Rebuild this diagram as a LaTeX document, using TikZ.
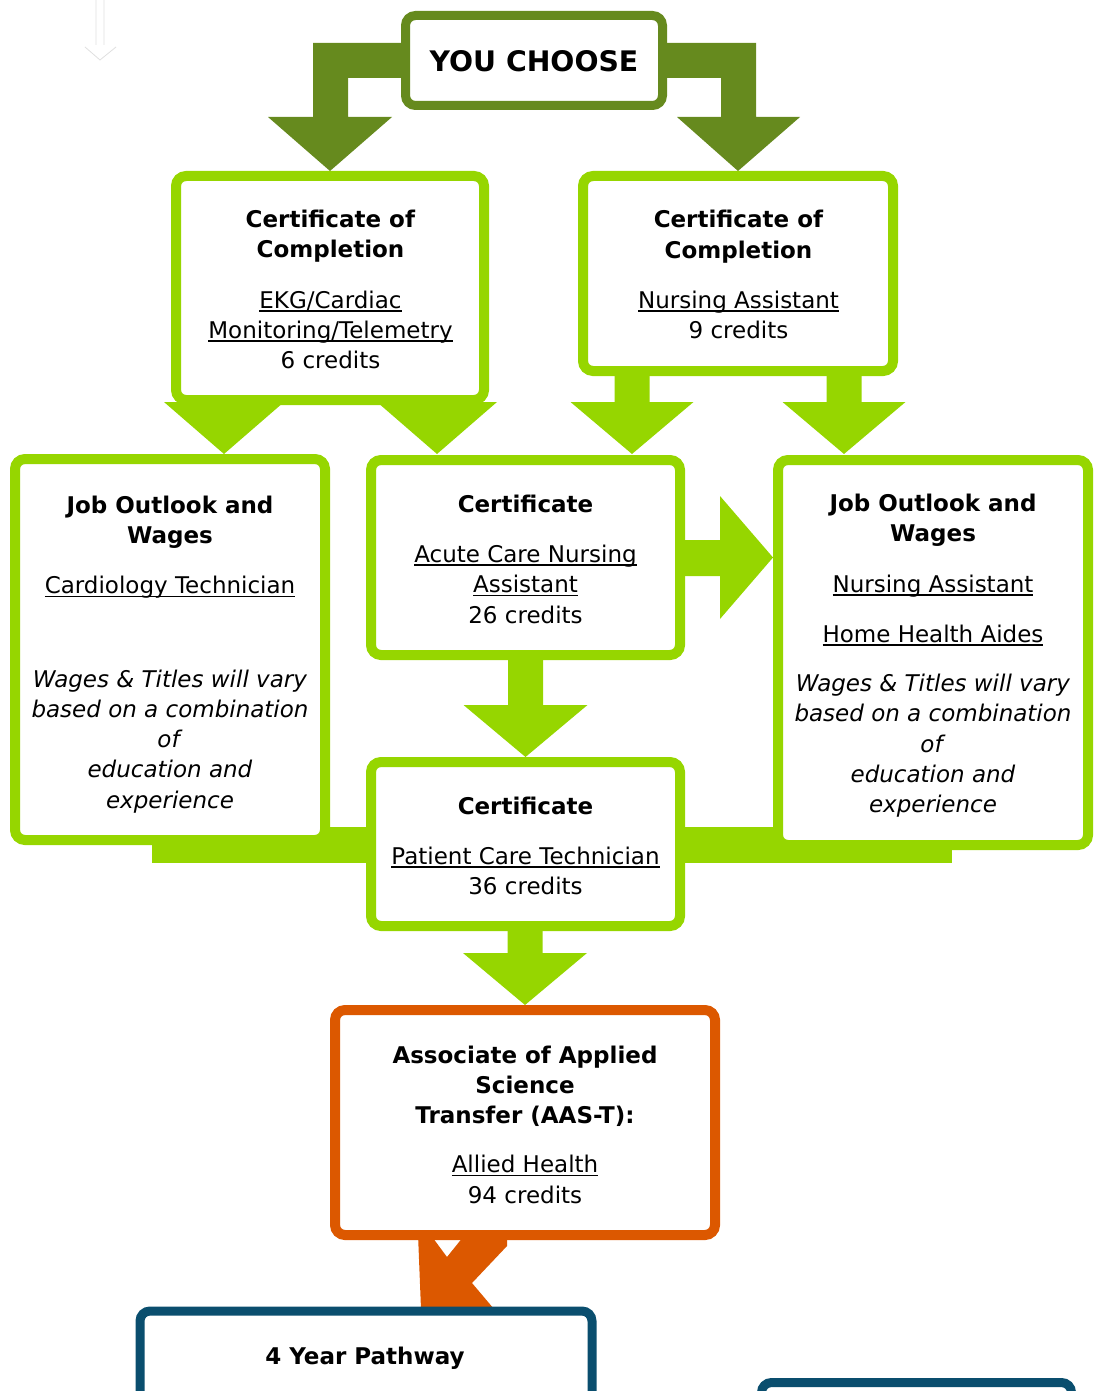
\documentclass[tikz,border=0pt]{standalone}
\usepackage{fontspec}
\setmainfont{DejaVu Sans}
\usetikzlibrary{calc}
\definecolor{lgreen}{RGB}{150,214,0}
\definecolor{dgreen}{RGB}{102,138,30}
\definecolor{borange}{RGB}{220,88,0}
\definecolor{bblue}{RGB}{10,78,110}
\newsavebox\ulbox
\newcommand\ulx[1]{\sbox\ulbox{#1}\rlap{\rule[-3.6pt]{\wd\ulbox}{1.8pt}}\usebox\ulbox}
\tikzset{
  gbox/.style={draw=lgreen, line width=10pt, fill=white, rounded corners=10pt, rectangle, inner sep=0pt},
  dbox/.style={draw=dgreen, line width=9pt, fill=white, rounded corners=10pt, rectangle, inner sep=0pt},
  obox/.style={draw=borange, line width=10pt, fill=white, rounded corners=10pt, rectangle, inner sep=0pt},
  bbox/.style={draw=bblue, line width=9pt, fill=white, rounded corners=10pt, rectangle, inner sep=0pt},
  txt/.style={anchor=base, align=center, inner sep=0pt, font=\fontsize{23}{30.25}\selectfont},
  garrow/.style={fill=lgreen},
  darrow/.style={fill=dgreen},
  oarrow/.style={fill=borange}
}
\newcommand\blockdown[3]{\fill[garrow] (#1) -- ++(-#2,-52) -- ++(#2-17.5,0) -- ++(0,-#3) -- ++(35,0) -- ++(0,#3) -- ++(#2-17.5,0) -- cycle;}
\begin{document}
\begin{tikzpicture}[x=1pt,y=-1pt]
\useasboundingbox (0,0) rectangle (1100,1391);
\clip (0,0) rectangle (1100,1391);
% faint arrow top-left
\draw[gray!25, line width=0.8pt] (96,0) -- (96,45) (104,0) -- (104,45) (85,47) -- (100,60) -- (116,47);
\path
  (534,60.5) coordinate (choosec)
  (330,288) coordinate (cert1c)
  (738,273.5) coordinate (cert2c);
% band behind bottom of job boxes
\fill[lgreen] (152,827) rectangle (952,863);
% dark green arrows (drawn before top box)
\coordinate (tipL) at (330,171);
\coordinate (tipR) at (738,171);
\fill[darrow] (tipL) -- ++(-62,-54) -- ++(45,0) -- ++(0,-74) -- ++(97,0) -- ++(0,35) -- ++(-62,0) -- ++(0,39) -- ++(44,0) -- cycle;
\fill[darrow] (tipR) -- ++(62,-54) -- ++(-44,0) -- ++(0,-74) -- ++(-96,0) -- ++(0,35) -- ++(61,0) -- ++(0,39) -- ++(-44,0) -- cycle;
% light green arrows
\coordinate (t1) at (224,454);
\coordinate (t2) at (437,454);
\coordinate (t3) at (632,454);
\coordinate (t4) at (844,454);
\coordinate (t5) at (525.5,757);
\coordinate (t6) at (525,1005);
\coordinate (t7) at (773,557.5);
\blockdown{t1}{60}{8}
\blockdown{t2}{60}{8}
\blockdown{t3}{61.5}{34}
\blockdown{t4}{61.5}{34}
\blockdown{t5}{62}{52}
\blockdown{t6}{62}{34}
\fill[garrow] (t7) -- ++(-53,-61.5) -- ++(0,44) -- ++(-48,0) -- ++(0,36) -- ++(48,0) -- ++(0,43) -- cycle;
% orange connector
\fill[oarrow] (418,1234) -- (430,1234) -- (447,1257) -- (465.5,1234) -- (507,1234) -- (507,1246) -- (472,1283) -- (494,1309) -- (421,1309) -- cycle;
% boxes
\node[dbox, minimum width=257pt, minimum height=90pt] (choose) at (choosec) {};
\node[gbox, minimum width=308pt, minimum height=224pt] (cert1) at (cert1c) {};
\node[gbox, minimum width=310pt, minimum height=195pt] (cert2) at (cert2c) {};
\node[gbox, minimum width=310pt, minimum height=381pt] (jobL) at (170,649.5) {};
\node[gbox, minimum width=309pt, minimum height=195pt] (acute) at (525.5,557.5) {};
\node[gbox, minimum width=310pt, minimum height=385pt] (jobR) at (933,652.5) {};
\node[gbox, minimum width=309pt, minimum height=164pt] (pct) at (525.5,844) {};
\node[obox, minimum width=380pt, minimum height=225pt] (aas) at (525,1122.5) {};
\node[bbox, minimum width=452pt, minimum height=188pt] (four) at (366,1405) {};
\node[bbox, minimum width=310pt, minimum height=115pt] (rblue) at (916.5,1440) {};
% texts (anchor base = baseline of last line)
\node[txt, font=\fontsize{28.3}{34}\selectfont\bfseries] (choosetxt) at (534,72) {YOU CHOOSE};
\node[txt] (cert1txt) at (330.5,368.5) {\textbf{Certificate of}\\\textbf{Completion}\\[20pt]\ulx{EKG/Cardiac}\\\ulx{Monitoring/Telemetry}\\6 credits};
\node[txt] (cert2txt) at (738.5,338.5) {\textbf{Certificate of}\\\textbf{Completion}\\[20pt]\ulx{Nursing Assistant}\\9 credits};
\node[txt] (jobLtxt) at (170,808) {\textbf{Job Outlook and}\\\textbf{Wages}\\[20pt]\ulx{Cardiology Technician}\\[63pt]\textit{Wages \& Titles will vary}\\\textit{based on a combination}\\\textit{of}\\\textit{education and}\\\textit{experience}};
\node[txt] (acutetxt) at (525.5,623) {\textbf{Certificate}\\[20pt]\ulx{Acute Care Nursing}\\\ulx{Assistant}\\26 credits};
\node[txt] (jobRtxt) at (933,812.5) {\textbf{Job Outlook and}\\\textbf{Wages}\\[20pt]\ulx{Nursing Assistant}\\[20pt]\ulx{Home Health Aides}\\[19pt]\textit{Wages \& Titles will vary}\\\textit{based on a combination}\\\textit{of}\\\textit{education and}\\\textit{experience}};
\node[txt] (pcttxt) at (525.5,894.5) {\textbf{Certificate}\\[20pt]\ulx{Patient Care Technician}\\36 credits};
\node[txt] (aastxt) at (525,1203) {\textbf{Associate of Applied}\\\textbf{Science}\\\textbf{Transfer (AAS-T):}\\[19pt]\ulx{Allied Health}\\94 credits};
\node[txt] (fourtxt) at (365,1364) {\textbf{4 Year Pathway}};
\end{tikzpicture}
\end{document}
